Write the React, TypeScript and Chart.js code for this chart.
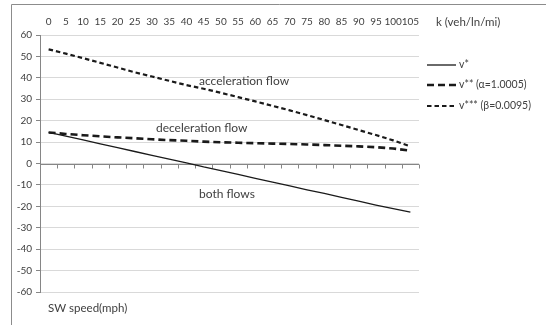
import React, { useEffect, useRef } from "react";
import { Chart, registerables } from "chart.js";

Chart.register(...registerables);

const kLabels = ["0","5","10","15","20","25","30","35","40","45","50","55","60","65","70","75","80","85","90","95","100","105"];
const vStar = [14.5,12.8,11.0,9.2,7.4,5.6,3.8,2.0,0.3,-1.6,-3.3,-5.1,-6.9,-8.7,-10.5,-12.3,-14.0,-15.8,-17.6,-19.4,-21.1,-22.7];
const vStar2 = [14.5,13.8,13.2,12.7,12.2,11.8,11.3,10.9,10.6,10.2,9.9,9.7,9.5,9.3,9.1,8.9,8.6,8.3,8.0,7.6,7.0,6.0];
const vStar3 = [53.3,51.3,49.2,47.0,44.8,42.6,40.6,38.6,36.6,34.9,33.0,31.0,29.0,26.9,24.8,22.6,20.3,18.0,15.6,13.3,10.8,8.0];
const seriesNames = ["v*", "v** (\u03b1=1.0005)", "v*** (\u03b2=0.0095)"];
const annotations = [
  { text: "acceleration flow", x: 8.73, y: 38.3 },
  { text: "deceleration flow", x: 6.23, y: 16.6 },
  { text: "both flows", x: 8.73, y: -14.2 },
];
const xTitle = "k (veh/ln/mi)";
const yTitle = "SW speed(mph)";

const FONT = "Lato, 'Open Sans', sans-serif";
const TEXT = "#404040";

const dashes = [[], [7, 4], [4.5, 3]];
const widths = [1.3, 2.6, 2.2];

const extras = {
  id: "extras",
  beforeDatasetsDraw(chart: any) {
    const ctx = chart.ctx;
    const xs = chart.scales.x;
    const ys = chart.scales.y;
    const a = chart.chartArea;
    const y0 = Math.round(ys.getPixelForValue(0)) + 0.5;
    ctx.save();
    ctx.strokeStyle = "#868686";
    ctx.lineWidth = 1;
    ctx.beginPath();
    ctx.moveTo(a.left, y0);
    ctx.lineTo(a.right, y0);
    const n = kLabels.length;
    for (let i = 0; i < n; i++) {
      const b = i < n - 1 ? (xs.getPixelForValue(i) + xs.getPixelForValue(i + 1)) / 2 : a.right;
      const bx = Math.round(b) + 0.5;
      ctx.moveTo(bx, y0);
      ctx.lineTo(bx, y0 + 4);
    }
    ctx.stroke();
    ctx.restore();
  },
  afterDraw(chart: any) {
    const ctx = chart.ctx;
    const xs = chart.scales.x;
    const ys = chart.scales.y;
    ctx.save();
    // outer border
    ctx.strokeStyle = "#8c8c8c";
    ctx.lineWidth = 1;
    ctx.beginPath();
    ctx.moveTo(11.5, 330);
    ctx.lineTo(11.5, 4.5);
    ctx.lineTo(550, 4.5);
    ctx.stroke();

    ctx.fillStyle = TEXT;
    ctx.textBaseline = "middle";
    ctx.textAlign = "left";
    ctx.font = `12px ${FONT}`;
    for (const an of annotations) {
      ctx.fillText(an.text, xs.getPixelForValue(an.x), ys.getPixelForValue(an.y));
    }
    ctx.font = `11.5px ${FONT}`;
    ctx.fillText(xTitle, 436, 22);
    ctx.fillText(yTitle, 48, 308);

    // legend
    ctx.font = `10.5px ${FONT}`;
    const rows = [65, 85, 106];
    for (let i = 0; i < 3; i++) {
      ctx.strokeStyle = "#1a1a1a";
      ctx.lineWidth = widths[i];
      ctx.setLineDash(dashes[i]);
      ctx.beginPath();
      ctx.moveTo(427, rows[i]);
      ctx.lineTo(456, rows[i]);
      ctx.stroke();
      ctx.setLineDash([]);
      ctx.fillStyle = TEXT;
      ctx.fillText(seriesNames[i], 459, rows[i]);
    }
    ctx.restore();
  },
};

export default function App() {
  const ref = useRef<HTMLCanvasElement>(null);
  useEffect(() => {
    if (!ref.current) return;
    const data = [vStar, vStar2, vStar3];
    const chart = new Chart(ref.current, {
      type: "line",
      data: {
        labels: kLabels,
        datasets: data.map((d, i) => ({
          label: seriesNames[i],
          data: d,
          borderColor: "#1a1a1a",
          borderWidth: widths[i],
          borderDash: dashes[i],
          pointRadius: 0,
          tension: 0,
          fill: false,
        })),
      },
      options: {
        animation: false,
        responsive: false,
        maintainAspectRatio: false,
        layout: { padding: { left: 0, top: 0, right: 127, bottom: 33 } },
        plugins: { legend: { display: false }, tooltip: { enabled: false } },
        scales: {
          x: {
            type: "category",
            position: "top",
            offset: true,
            grid: { display: false, drawTicks: false },
            border: { display: false },
            ticks: {
              color: TEXT,
              font: { family: FONT, size: 10 },
              padding: 7,
              maxRotation: 0,
              autoSkip: false,
            },
            afterFit: (s: any) => { s.height = 35; },
          },
          y: {
            min: -60,
            max: 60,
            grid: { color: "#d9d9d9", tickColor: "#868686", tickLength: 4 },
            border: { color: "#868686" },
            ticks: {
              stepSize: 10,
              color: TEXT,
              font: { family: FONT, size: 10 },
              padding: 4,
            },
            afterFit: (s: any) => { s.width = 40; },
          },
        },
      },
      plugins: [extras],
    });
    return () => chart.destroy();
  }, []);
  return (
    <div style={{ position: "absolute", left: 0, top: 0, width: 546, height: 325, background: "#fff" }}>
      <canvas ref={ref} width={546} height={325} style={{ width: 546, height: 325, display: "block" }} />
    </div>
  );
}
